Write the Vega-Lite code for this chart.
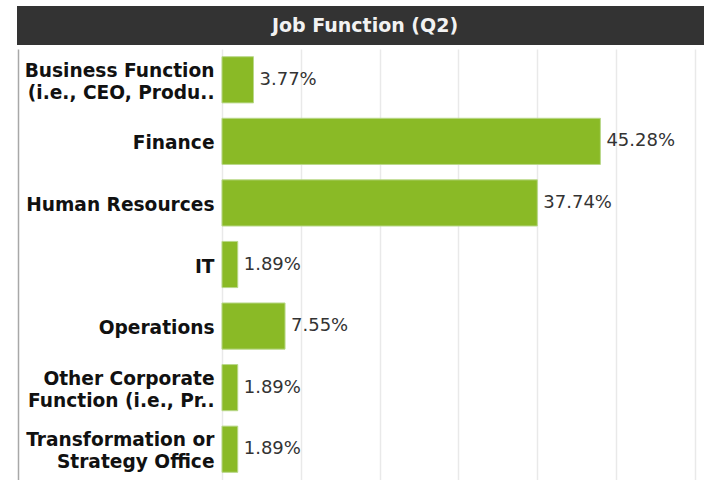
{
  "$schema": "https://vega.github.io/schema/vega-lite/v6.json",
  "padding": {"left": 17, "top": 6, "right": 0, "bottom": 0},
  "autosize": {"type": "pad"},
  "background": "white",
  "spacing": 4,
  "config": {"view": {"stroke": null}, "font": "DejaVu Sans"},
  "vconcat": [
    {
      "width": 696,
      "height": 39,
      "view": {"fill": "#333333", "stroke": null},
      "data": {"values": [{"title": "Job Function (Q2)"}]},
      "mark": {"type": "text", "color": "#f2f2f2", "font": "DejaVu Sans", "fontWeight": "bold", "fontSize": 19, "baseline": "middle", "align": "center"},
      "encoding": {"text": {"field": "title"}}
    },
    {
      "width": 687,
      "height": 431,
      "data": {"values": [
        {"label": "Business Function|(i.e., CEO, Produ..", "count": 2, "pct": 0.0377},
        {"label": "Finance", "count": 24, "pct": 0.4528},
        {"label": "Human Resources", "count": 20, "pct": 0.3774},
        {"label": "IT", "count": 1, "pct": 0.0189},
        {"label": "Operations", "count": 4, "pct": 0.0755},
        {"label": "Other Corporate|Function (i.e., Pr..", "count": 1, "pct": 0.0189},
        {"label": "Transformation or|Strategy Office", "count": 1, "pct": 0.0189}
      ]},
      "encoding": {
        "y": {
          "field": "label", "type": "nominal", "sort": null,
          "scale": {"paddingInner": 0.25, "paddingOuter": 0.125},
          "axis": {
            "title": null, "ticks": false, "domain": false, "grid": false,
            "offset": -205,
            "labelPadding": 8, "labelFontSize": 18.6, "labelFontWeight": "bold",
            "labelColor": "#111111", "labelFont": "DejaVu Sans",
            "labelExpr": "split(datum.value, '|')", "labelLineHeight": 22,
            "labelOffset": {"condition": {"test": "indexof(datum.value, '|') >= 0", "value": -9}, "value": 2},
            "labelLimit": 220
          }
        },
        "x": {
          "field": "count", "type": "quantitative",
          "scale": {"domain": [-13, 30], "nice": false, "zero": false, "range": [0, 678]},
          "axis": {
            "title": null, "labels": false, "ticks": false, "domain": false,
            "grid": true, "gridWidth": 1.5,
            "gridColor": {"condition": {"test": "datum.value < 0", "value": "#a8a8a8"}, "value": "#e9e9e9"},
            "values": [-12.96, 0, 5, 10, 15, 20, 25, 30]
          }
        }
      },
      "layer": [
        {"mark": {"type": "bar", "color": "#8aba26", "stroke": "#b9d88a", "strokeWidth": 1}},
        {
          "mark": {"type": "text", "align": "left", "baseline": "middle", "dx": 6, "fontSize": 18, "color": "#333333", "font": "DejaVu Sans"},
          "encoding": {"text": {"field": "pct", "type": "quantitative", "format": ".2%"}}
        }
      ]
    }
  ]
}
